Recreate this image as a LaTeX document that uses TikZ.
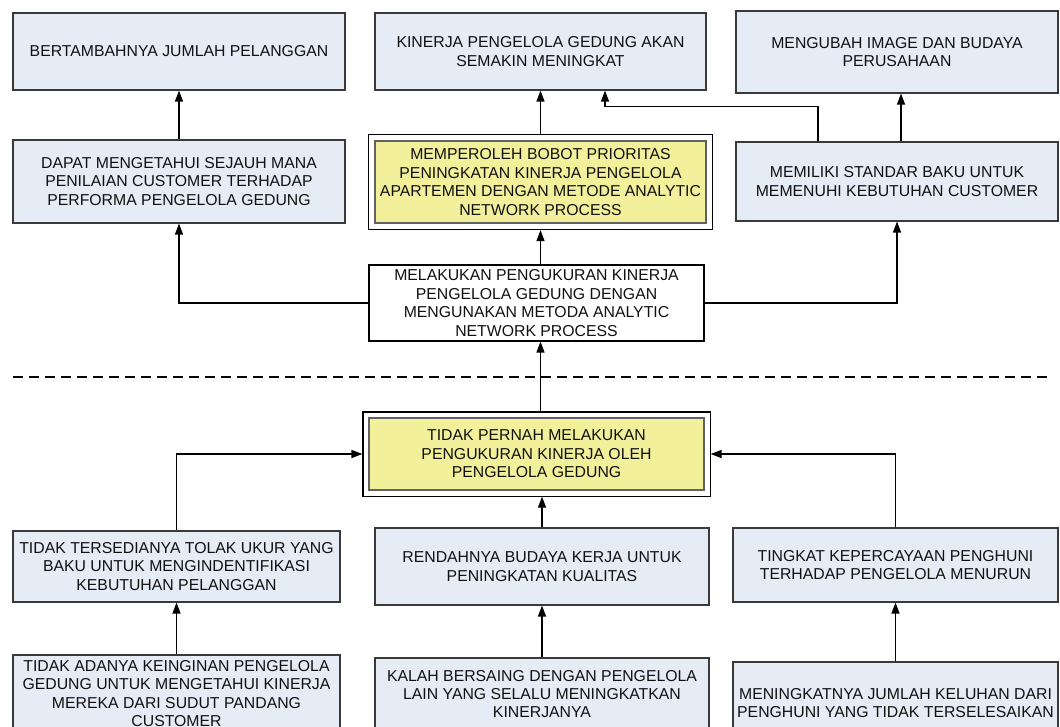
\documentclass[tikz,border=0pt]{standalone}
\usepackage{fontspec}
\setmainfont{Liberation Sans}
\usetikzlibrary{arrows.meta,fit}

\definecolor{boxblue}{HTML}{E6ECF6}
\definecolor{boxyellow}{HTML}{F2F09A}
\definecolor{boxline}{HTML}{3A3A3A}
\definecolor{txt}{HTML}{111111}

\tikzset{
  base/.style={rectangle, align=center, inner sep=0pt, text=txt,
    font=\fontsize{15.8pt}{18.4pt}\selectfont, line width=1.1pt},
  bluebox/.style={base, draw=boxline, fill=boxblue},
  whitebox/.style={base, draw=black, fill=white},
  yellowbox/.style={base, draw=boxline!80, fill=boxyellow},
  framebox/.style={rectangle, draw=black, line width=1.1pt, inner sep=6pt},
  arr/.style={line width=1.2pt, draw=black, -{Triangle[length=11pt,width=8pt]}},
  sep/.style={line width=1.1pt, dash pattern=on 10pt off 6pt}
}

\begin{document}
\begin{tikzpicture}[x=1pt,y=-1pt]
\useasboundingbox (0,0) rectangle (1060,726);
\clip (0,0) rectangle (1060,726);

% top row: results
\node[bluebox, minimum width=332, minimum height=77] (A) at (179,51.5)
  {BERTAMBAHNYA JUMLAH PELANGGAN};
\node[bluebox, minimum width=331, minimum height=77] (B) at (540.5,51.5)
  {KINERJA PENGELOLA GEDUNG AKAN\\SEMAKIN MENINGKAT};
\node[bluebox, minimum width=322, minimum height=82] (C) at (897,52)
  {MENGUBAH IMAGE DAN BUDAYA\\PERUSAHAAN};

% second row
\node[bluebox, minimum width=332, minimum height=83] (D) at (179,181.5)
  {DAPAT MENGETAHUI SEJAUH MANA\\PENILAIAN CUSTOMER TERHADAP\\PERFORMA PENGELOLA GEDUNG};
\node[yellowbox, minimum width=331, minimum height=82] (E) at (540.5,182)
  {MEMPEROLEH BOBOT PRIORITAS\\PENINGKATAN KINERJA PENGELOLA\\APARTEMEN DENGAN METODE ANALYTIC\\NETWORK PROCESS};
\node[framebox, fit=(E)] (Eo) {};
\node[bluebox, minimum width=322, minimum height=79] (F) at (897,181.5)
  {MEMILIKI STANDAR BAKU UNTUK\\MEMENUHI KEBUTUHAN CUSTOMER};

% solution
\node[whitebox, minimum width=335, minimum height=76] (G) at (536.5,303)
  {MELAKUKAN PENGUKURAN KINERJA\\PENGELOLA GEDUNG DENGAN\\MENGUNAKAN METODA ANALYTIC\\NETWORK PROCESS};

% separator
\coordinate (sepL) at (13,377);
\coordinate (sepR) at (1052,377);
\draw[sep] (sepL) -- (sepR);

% core problem
\node[yellowbox, minimum width=335, minimum height=72] (H) at (536.5,454)
  {TIDAK PERNAH MELAKUKAN\\PENGUKURAN KINERJA OLEH\\PENGELOLA GEDUNG};
\node[framebox, inner sep=5.5pt, fit=(H)] (Ho) {};

% causes
\node[bluebox, minimum width=327, minimum height=71] (I) at (176.5,566.5)
  {TIDAK TERSEDIANYA TOLAK UKUR YANG\\BAKU UNTUK MENGINDENTIFIKASI\\KEBUTUHAN PELANGGAN};
\node[bluebox, minimum width=334, minimum height=77] (J) at (542,566.5)
  {RENDAHNYA BUDAYA KERJA UNTUK\\PENINGKATAN KUALITAS};
\node[bluebox, minimum width=325, minimum height=74] (K) at (895.5,565)
  {TINGKAT KEPERCAYAAN PENGHUNI\\TERHADAP PENGELOLA MENURUN};

% root causes
\node[bluebox, minimum width=327, minimum height=77] (L) at (176.5,693.5)
  {TIDAK ADANYA KEINGINAN PENGELOLA\\GEDUNG UNTUK MENGETAHUI KINERJA\\MEREKA DARI SUDUT PANDANG\\CUSTOMER};
\node[bluebox, minimum width=334, minimum height=72] (M) at (542,694)
  {KALAH BERSAING DENGAN PENGELOLA\\LAIN YANG SELALU MENINGKATKAN\\KINERJANYA};
\node[bluebox, minimum width=325, minimum height=82] (N) at (895.5,703)
  {MENINGKATNYA JUMLAH KELUHAN DARI\\PENGHUNI YANG TIDAK TERSELESAIKAN};

% connectors above the separator
\draw[arr] (D.north) -- (A.south);
\draw[arr] (Eo.north -| B.south) -- (B.south);
\draw[arr] ([xshift=4pt]F.north) -- ([xshift=4pt]C.south);
\draw[arr] ([xshift=-79pt]F.north) -- ++(0,-35) -| ([xshift=64.5pt]B.south);
\draw[arr] (G.north -| Eo.south) -- (Eo.south);
\draw[arr] (G.west) -| (D.south);
\draw[arr] (G.east) -| (F.south);

% connectors below the separator
\draw[arr] (Ho.north -| Eo.south) -- (G.south -| Eo.south);
\draw[arr] (I.north) |- (Ho.west);
\draw[arr] (K.north) |- (Ho.east);
\draw[arr] (J.north) -- (Ho.south -| J.north);
\draw[arr] (L.north) -- (I.south);
\draw[arr] (M.north) -- (J.south);
\draw[arr] (N.north) -- (K.south);
\end{tikzpicture}
\end{document}
